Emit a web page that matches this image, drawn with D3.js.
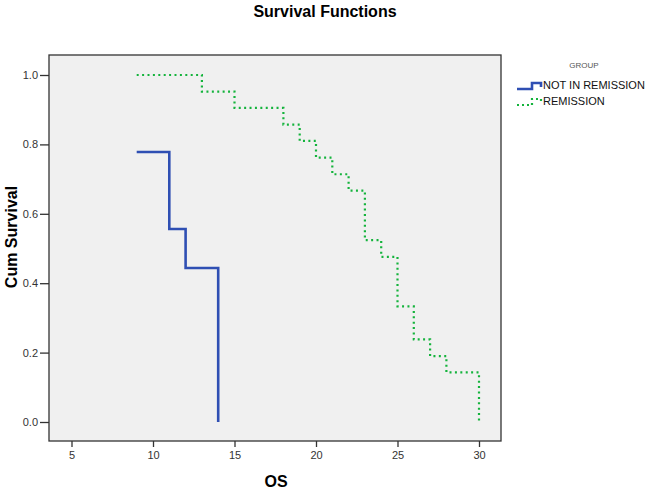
<!DOCTYPE html>
<html>
<head>
<meta charset="utf-8">
<script src="https://cdn.jsdelivr.net/npm/d3@7"></script>
<style>
  body { margin: 0; background: white; }
  svg { display: block; font-family: Arial, 'Liberation Sans', sans-serif; }
</style>
</head>
<body>
<svg width="650" height="495"></svg>
<script>
// Kaplan-Meier steps
const notRemissionTimes = [9, 11, 12, 14, 14];
const notRemissionSurv = [0.778, 0.556, 0.444, 0.0, 0.0];

const remissionTimes = [9, 13, 15, 18, 19, 20, 21, 22, 23, 24, 25, 26, 27, 28, 30];
const remissionSurv = [1.0, 0.952, 0.905, 0.857, 0.810, 0.762, 0.714, 0.667, 0.524, 0.476, 0.333, 0.238, 0.190, 0.143, 0.0];

const xTicks = [5, 10, 15, 20, 25, 30];
const yTicks = [0.0, 0.2, 0.4, 0.6, 0.8, 1.0];
const groupNames = ['NOT IN REMISSION', 'REMISSION'];

const svg = d3.select('svg');

// plot frame
const frame = { left: 49, top: 55, right: 501, bottom: 441 };

const x = d3.scaleLinear().domain([5, 30]).range([71.5, 479]);
const y = d3.scaleLinear().domain([0, 1]).range([422, 75]);

svg.append('rect')
  .attr('x', frame.left).attr('y', frame.top)
  .attr('width', frame.right - frame.left).attr('height', frame.bottom - frame.top)
  .attr('fill', '#f0f0f0')
  .attr('stroke', '#333').attr('stroke-width', 1.3);

// axes
const xAxis = d3.axisBottom(x).tickValues(xTicks).tickSize(6).tickPadding(4).tickFormat(d3.format('d'));
const xg = svg.append('g').attr('transform', `translate(0,${frame.bottom})`).call(xAxis);
xg.select('.domain').remove();

const yAxis = d3.axisLeft(y).tickValues(yTicks).tickSize(9).tickPadding(2).tickFormat(d3.format('.1f'));
const yg = svg.append('g').attr('transform', `translate(${frame.left},0)`).call(yAxis);
yg.select('.domain').remove();

svg.selectAll('.tick line').attr('stroke', '#333').attr('stroke-width', 1.3);
svg.selectAll('.tick text').attr('fill', '#333').attr('font-size', '11px').attr('font-family', 'Arial, Liberation Sans, sans-serif');

// step lines
const line = d3.line().x(d => x(d[0])).y(d => y(d[1])).curve(d3.curveStepAfter);

const blueData = notRemissionTimes.map((t, i) => [t, notRemissionSurv[i]]);
const greenData = remissionTimes.map((t, i) => [t, remissionSurv[i]]);

svg.append('path').datum(greenData)
  .attr('d', line)
  .attr('fill', 'none')
  .attr('stroke', '#14b33c')
  .attr('stroke-width', 2.2)
  .attr('stroke-dasharray', '2,3.4');

svg.append('path').datum(blueData)
  .attr('d', line)
  .attr('fill', 'none')
  .attr('stroke', '#2f4fb3')
  .attr('stroke-width', 2.6);

// titles
svg.append('text')
  .attr('x', 325).attr('y', 17)
  .attr('text-anchor', 'middle')
  .attr('font-size', '16px').attr('font-weight', 'bold')
  .text('Survival Functions');

svg.append('text')
  .attr('transform', 'translate(17,237) rotate(-90)')
  .attr('text-anchor', 'middle')
  .attr('font-size', '16px').attr('font-weight', 'bold')
  .text('Cum Survival');

svg.append('text')
  .attr('x', 276).attr('y', 487)
  .attr('text-anchor', 'middle')
  .attr('font-size', '16px').attr('font-weight', 'bold')
  .text('OS');

// legend
svg.append('text')
  .attr('x', 584).attr('y', 68)
  .attr('text-anchor', 'middle')
  .attr('font-size', '8px').attr('fill', '#555')
  .text('GROUP');

const legendStyles = [
  { color: '#2f4fb3', dash: null, width: 2.6 },
  { color: '#14b33c', dash: '2,3', width: 2.2 }
];

groupNames.forEach((name, i) => {
  const ly = 89 + i * 16;
  svg.append('path')
    .attr('d', `M517,${ly} H532 V${ly - 6} H541 V${ly - 2}`)
    .attr('fill', 'none')
    .attr('stroke', legendStyles[i].color)
    .attr('stroke-width', legendStyles[i].width)
    .attr('stroke-dasharray', legendStyles[i].dash);
  svg.append('text')
    .attr('x', 543).attr('y', ly)
    .attr('font-size', '11px').attr('fill', '#111')
    .text(name);
});
</script>
</body>
</html>
